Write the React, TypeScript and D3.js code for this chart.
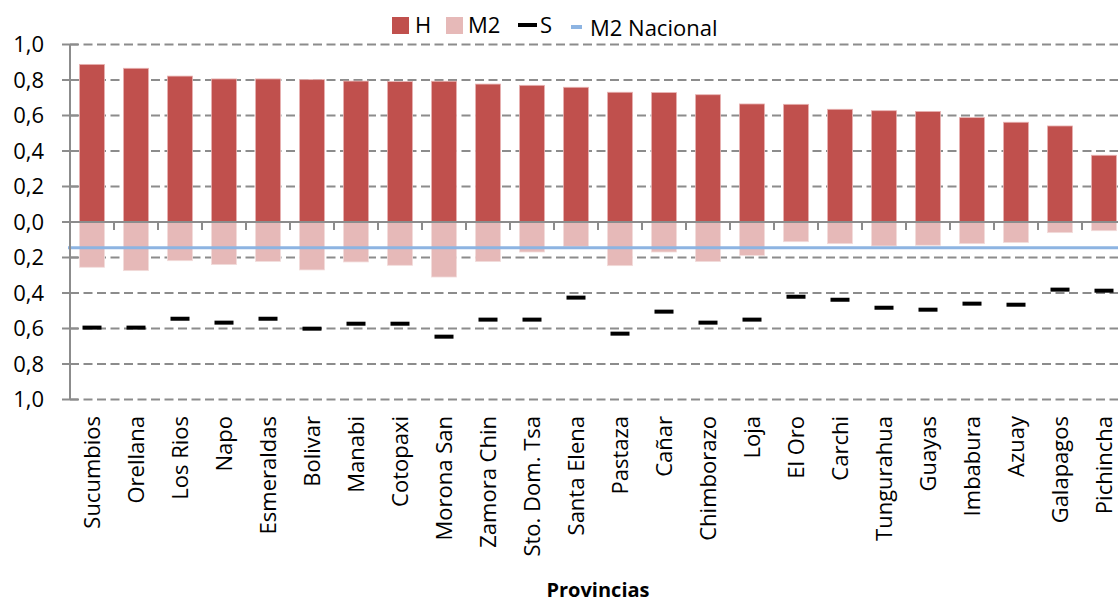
import React from "react";
import * as d3 from "d3";

// Provinces in chart order
const provincias = [
  "Sucumbios", "Orellana", "Los Rios", "Napo", "Esmeraldas", "Bolivar",
  "Manabi", "Cotopaxi", "Morona San", "Zamora Chin", "Sto. Dom. Tsa",
  "Santa Elena", "Pastaza", "Cañar", "Chimborazo", "Loja", "El Oro",
  "Carchi", "Tungurahua", "Guayas", "Imbabura", "Azuay", "Galapagos", "Pichincha",
];

// H index (drawn upward)
const valoresH = [
  0.888, 0.866, 0.822, 0.806, 0.806, 0.802, 0.794, 0.791, 0.793, 0.777,
  0.770, 0.759, 0.731, 0.729, 0.717, 0.665, 0.663, 0.635, 0.627, 0.623,
  0.588, 0.562, 0.541, 0.376,
];

// M2 index (drawn downward, stored negative)
const valoresM2 = [
  -0.255, -0.274, -0.218, -0.240, -0.222, -0.270, -0.225, -0.244, -0.310, -0.223,
  -0.169, -0.137, -0.246, -0.169, -0.223, -0.188, -0.111, -0.122, -0.135, -0.131,
  -0.122, -0.115, -0.060, -0.049,
];

// S index (markers, stored negative)
const valoresS = [
  -0.595, -0.595, -0.545, -0.567, -0.545, -0.601, -0.573, -0.573, -0.646, -0.550,
  -0.550, -0.426, -0.629, -0.505, -0.567, -0.550, -0.421, -0.438, -0.483, -0.494,
  -0.460, -0.466, -0.381, -0.387,
];

// National M2 reference level
const m2Nacional = -0.145;

const yTicks = [1, 0.8, 0.6, 0.4, 0.2, 0, -0.2, -0.4, -0.6, -0.8, -1];

const W = 1118;
const H = 603;
const FONT = "'Open Sans', 'DejaVu Sans', sans-serif";

const COLOR_H = "#C0504D";
const COLOR_M2 = "#E6B9B8";
const COLOR_S = "#000000";
const COLOR_NAC = "#8DB4E2";
const GRID = "#8c8c8c";

export default function App() {
  const left = 70;
  const step = 44;
  const x = d3
    .scaleBand<string>()
    .domain(provincias)
    .range([left, left + step * provincias.length])
    .paddingInner(0.43)
    .paddingOuter(0.215);
  const y = d3.scaleLinear().domain([-1, 1]).range([399.5, 44.5]);
  const fmt = (v: number) => d3.format(".1f")(Math.abs(v)).replace(".", ",");
  const bw = x.bandwidth();
  const cx = (p: string) => (x(p) as number) + bw / 2;

  const nacLine = d3.line<number>()
    .x((d) => d)
    .y(() => y(m2Nacional));

  return (
    <svg
      width={W}
      height={H}
      style={{ position: "absolute", left: 0, top: 0, background: "#fff" }}
      fontFamily={FONT}
    >
      {/* gridlines */}
      {yTicks.filter((t) => t !== 0).map((t) => (
        <line
          key={"g" + t}
          x1={left}
          x2={W}
          y1={y(t)}
          y2={y(t)}
          stroke={GRID}
          strokeWidth={2}
          strokeDasharray="9,4.5"
        />
      ))}

      {/* H bars */}
      {provincias.map((p, i) => (
        <rect
          key={"h" + p}
          x={x(p)}
          y={y(valoresH[i])}
          width={bw}
          height={y(0) - y(valoresH[i])}
          fill={COLOR_H}
          stroke="#e8b4b3"
          strokeWidth={0.8}
        />
      ))}

      {/* M2 bars */}
      {provincias.map((p, i) => (
        <rect
          key={"m" + p}
          x={x(p)}
          y={y(0)}
          width={bw}
          height={y(valoresM2[i]) - y(0)}
          fill={COLOR_M2}
          stroke="#f2dcdb"
          strokeWidth={0.8}
        />
      ))}

      {/* national M2 reference */}
      <path
        d={nacLine([left - 2, W]) as string}
        stroke={COLOR_NAC}
        strokeWidth={3}
        fill="none"
      />

      {/* S markers */}
      {provincias.map((p, i) => (
        <rect
          key={"s" + p}
          x={cx(p) - 9.5}
          y={y(valoresS[i]) - 2}
          width={19}
          height={4}
          fill={COLOR_S}
        />
      ))}

      {/* y axis */}
      <line x1={left} x2={left} y1={y(1)} y2={y(-1)} stroke={GRID} strokeWidth={2} />
      {yTicks.map((t) => (
        <g key={"t" + t}>
          <line x1={left - 8} x2={left + 8} y1={y(t)} y2={y(t)} stroke={GRID} strokeWidth={2} />
          <text
            x={44}
            y={y(t)}
            dy="0.36em"
            textAnchor="end"
            fontSize={22}
            fill="#000"
          >
            {fmt(t)}
          </text>
        </g>
      ))}

      {/* x axis at zero */}
      <line x1={left} x2={W} y1={y(0)} y2={y(0)} stroke={GRID} strokeWidth={2} />
      {provincias.slice(1).map((p) => (
        <line
          key={"xt" + p}
          x1={(x(p) as number) - (step - bw) / 2}
          x2={(x(p) as number) - (step - bw) / 2}
          y1={y(0)}
          y2={y(0) + 8}
          stroke={GRID}
          strokeWidth={2}
        />
      ))}

      {/* category labels */}
      {provincias.map((p) => (
        <text
          key={"l" + p}
          transform={`translate(${cx(p)},416) rotate(-90)`}
          dy="0.36em"
          textAnchor="end"
          fontSize={22}
          fill="#000"
        >
          {p}
        </text>
      ))}

      {/* axis title */}
      <text x={598} y={597} textAnchor="middle" fontSize={20} fontWeight="bold" fill="#000">
        Provincias
      </text>

      {/* legend */}
      <g fontSize={22} fill="#000">
        <rect x={392} y={17} width={17} height={17} fill={COLOR_H} />
        <text x={415} y={33}>H</text>
        <rect x={446} y={17} width={17} height={17} fill={COLOR_M2} />
        <text x={468} y={33}>M2</text>
        <rect x={518} y={23} width={19} height={4} fill={COLOR_S} />
        <text x={540} y={33}>S</text>
        <rect x={571} y={25} width={11} height={4} fill={COLOR_NAC} />
        <text x={590} y={36}>M2 Nacional</text>
      </g>
    </svg>
  );
}
